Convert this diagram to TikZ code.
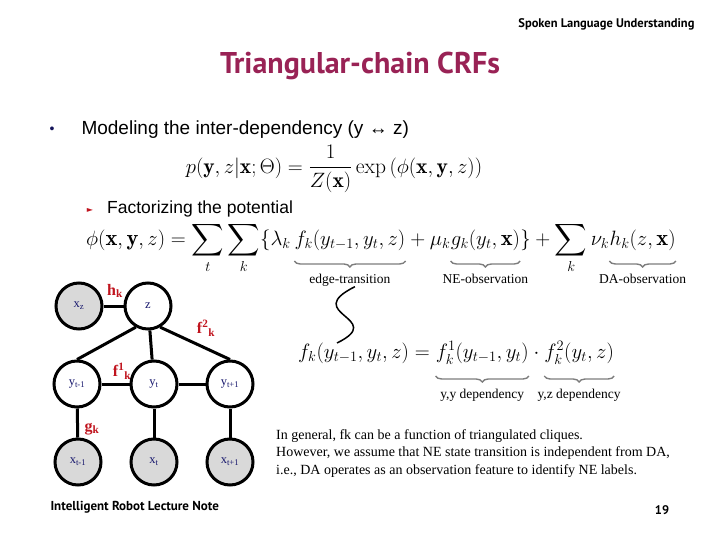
\documentclass[tikz,border=0pt]{standalone}
\usepackage{amsmath}
\usepackage{amssymb}
\usepackage{fontspec}
\newfontfamily\headfont{PT Sans}
\newfontfamily\bodyfont{Liberation Sans}
\newfontfamily\notefont{Liberation Serif}
\newfontfamily\symfont{DejaVu Sans}
\usepackage{tikz}
\usetikzlibrary{positioning,decorations.pathreplacing}

\definecolor{titlered}{RGB}{153,34,85}
\definecolor{labelred}{RGB}{192,20,30}
\definecolor{nodeblue}{RGB}{25,25,110}
\definecolor{obsgray}{RGB}{217,217,217}
\definecolor{bracegray}{RGB}{125,125,125}
\definecolor{bulletblue}{RGB}{20,20,90}

\tikzset{
  var/.style={circle, draw, line width=3pt, minimum size=46pt, inner sep=0pt,
    fill=white, text=nodeblue, font=\notefont\fontsize{12.5}{12.5}\selectfont},
  obs/.style={var, fill=obsgray},
  link/.style={line width=3pt},
  factor/.style={inner sep=0pt, text=labelred, font=\notefont\bfseries\fontsize{16}{16}\selectfont},
  piece/.style={anchor=base west, inner sep=0pt, font=\fontsize{22.5}{26}\selectfont},
  under/.style={decorate, decoration={brace, mirror, amplitude=6pt}, draw=bracegray, line width=1.4pt},
  note/.style={inner sep=0pt, font=\notefont\fontsize{13.5}{15}\selectfont},
}

\begin{document}
\begin{tikzpicture}[x=1pt,y=-1pt]
    \useasboundingbox (0,0) rectangle (720,540);
    % header and title
    \node [anchor=east, font=\headfont\bfseries\fontsize{12.5}{14}\selectfont] (section) at (698,24) {Spoken Language Understanding};
    \node [text=titlered, font=\headfont\bfseries\fontsize{30}{32}\selectfont] (title) at (360,66) {Triangular-chain CRFs};
    \node [text=bulletblue, font=\bodyfont\fontsize{14}{14}\selectfont] (dot) at (52,130) {•};
    \node [anchor=west, font=\bodyfont\fontsize{19}{20}\selectfont] (model) at (78,130) {Modeling the inter-dependency (y ↔ z)};
    \node [font=\fontsize{21.5}{24}\selectfont] (joint) at (334,169) {$\displaystyle p(\mathbf{y},z|\mathbf{x};\Theta) = \frac{1}{Z(\mathbf{x})}\exp\left(\phi(\mathbf{x},\mathbf{y},z)\right)$};
    \node [text=labelred, font=\symfont\fontsize{8}{8}\selectfont] (tri) at (90,210) {►};
    \node [anchor=west, inner sep=0pt, font=\bodyfont\fontsize{17.5}{18}\selectfont] (factorize) at (107,209) {Factorizing the potential};

    % potential, split so the braces can sit under the terms
    \node [piece] (pot) at (86,245) {$\displaystyle \phi(\mathbf{x},\mathbf{y},z) = \sum_t\sum_k\{\lambda_k\,$};
    \node [piece, base right=0pt of pot] (edge) {$f_k(y_{t-1},y_t,z)$};
    \node [piece, base right=0pt of edge] (mu) {${}+\mu_k$};
    \node [piece, base right=0pt of mu] (ne) {$g_k(y_t,\mathbf{x})$};
    \node [piece, base right=0pt of ne] (sumk) {$\displaystyle \}+\sum_k\nu_k$};
    \node [piece, base right=0pt of sumk] (da) {$h_k(z,\mathbf{x})$};
    \draw [under] ([yshift=-16pt]edge.base west) -- ([yshift=-16pt]edge.base east) node [note, midway, below=12pt] (edgelbl) {edge-transition};
    \draw [under] ([yshift=-16pt]ne.base west) -- ([yshift=-16pt]ne.base east) node [note, midway, below=12pt] (nelbl) {NE-observation};
    \draw [under] ([yshift=-16pt]da.base west) -- ([yshift=-16pt]da.base east) node [note, midway, below=12pt] (dalbl) {DA-observation};

    % split of f_k
    \node [piece] (fdef) at (298,358) {$f_k(y_{t-1},y_t,z) ={}$};
    \node [piece, base right=0pt of fdef] (yy) {$f^1_k(y_{t-1},y_t)$};
    \node [piece, base right=0pt of yy] (cdot) {${}\cdot{}$};
    \node [piece, base right=0pt of cdot] (yz) {$f^2_k(y_t,z)$};
    \draw [under] ([yshift=-18pt]yy.base west) -- ([yshift=-18pt]yy.base east) node [note, midway, below=12pt] (yylbl) {y,y dependency};
    \draw [under] ([yshift=-18pt]yz.base west) -- ([yshift=-18pt]yz.base east) node [note, midway, below=12pt] (yzlbl) {y,z dependency};
    \coordinate (squigend) at (337,343);
    \draw [line width=1.5pt] ([xshift=5pt]edgelbl.south) .. controls (300,314) and (388,318) .. (squigend);

    % triangular-chain graph
    \node [obs] (xz) at (79,306) {x\textsubscript{z}};
    \node [var] (z) at (148,306) {z};
    \node [var] (ym) at (77,384) {y\textsubscript{t-1}};
    \node [var] (yt) at (154,384) {y\textsubscript{t}};
    \node [var] (yp) at (230,384) {y\textsubscript{t+1}};
    \node [obs] (xm) at (78,462) {x\textsubscript{t-1}};
    \node [obs] (xt) at (154,462) {x\textsubscript{t}};
    \node [obs] (xp) at (230,462) {x\textsubscript{t+1}};
    \draw [link] (xz) -- (z);
    \draw [link] (z.240) -- (ym.north);
    \draw [link] (z) -- (yt);
    \draw [link] (z.300) -- (yp.north);
    \draw [link] (ym) -- (yt);
    \draw [link] (yt) -- (yp);
    \draw [link] (ym) -- (xm);
    \draw [link] (yt) -- (xt);
    \draw [link] (yp) -- (xp);
    \node [factor] (hk) at (115,291) {h\textsubscript{k}};
    \node [factor] (f2k) at (206,328) {f\textsuperscript{2}\textsubscript{k}};
    \node [factor] (f1k) at (122,371) {f\textsuperscript{1}\textsubscript{k}};
    \node [factor] (gk) at (92,429) {g\textsubscript{k}};

    % remark and footer
    \node [anchor=north west, align=left, inner sep=0pt, font=\notefont\fontsize{14}{17.5}\selectfont] (remark) at (276,429) {In general, fk can be a function of triangulated cliques.\\However, we assume that NE state transition is independent from DA,\\i.e., DA operates as an observation feature to identify NE labels.};
    \node [anchor=west, font=\headfont\bfseries\fontsize{13}{14}\selectfont] (footer) at (47,507) {Intelligent Robot Lecture Note};
    \node [font=\headfont\bfseries\fontsize{12.5}{14}\selectfont] (page) at (662,510) {19};
\end{tikzpicture}
\end{document}
